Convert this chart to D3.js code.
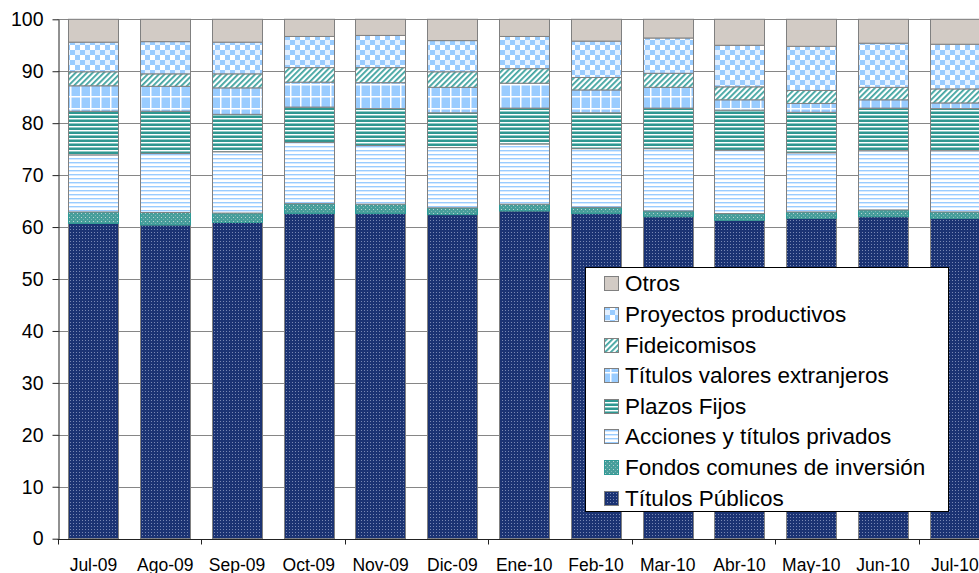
<!DOCTYPE html>
<html>
<head>
<meta charset="utf-8">
<script src="https://cdn.jsdelivr.net/npm/d3@7/dist/d3.min.js"></script>
<style>
  html, body { margin: 0; padding: 0; background: #fff; overflow: hidden; }
  svg { display: block; font-family: "Liberation Sans", Arial, sans-serif; }
</style>
</head>
<body>
<svg id="chart" width="979" height="573"></svg>
<script>
// Months on the x axis
const months = ["Jul-09","Ago-09","Sep-09","Oct-09","Nov-09","Dic-09","Ene-10","Feb-10","Mar-10","Abr-10","May-10","Jun-10","Jul-10"];

// Portfolio composition (%), one array per asset class, stacked bottom to top
const titulosPublicos   = [60.7, 60.4, 60.9, 62.6, 62.6, 62.4, 63.1, 62.6, 62.0, 61.3, 61.7, 62.0, 61.7];
const fondosComunes     = [ 2.2,  2.4,  1.8,  1.9,  1.8,  1.3,  1.3,  1.2,  1.1,  1.3,  1.2,  1.3,  1.2];
const accionesPrivados  = [11.0, 11.4, 11.8, 11.8, 11.3, 11.6, 11.6, 11.3, 12.0, 12.2, 11.4, 11.4, 11.8];
const plazosFijos       = [ 8.4,  8.1,  7.2,  6.8,  7.1,  6.7,  6.9,  6.9,  7.8,  7.7,  7.8,  8.2,  8.1];
const titulosExtranjeros= [ 4.9,  4.8,  5.1,  4.8,  5.0,  4.9,  4.8,  4.4,  4.0,  2.0,  1.7,  1.6,  1.1];
const fideicomisos      = [ 2.7,  2.4,  2.7,  2.8,  2.9,  3.0,  2.8,  2.4,  2.7,  2.5,  2.5,  2.4,  2.7];
const proyectos         = [ 5.7,  6.2,  6.1,  6.0,  6.2,  6.0,  6.2,  7.0,  6.8,  8.0,  8.5,  8.5,  8.6];
const otros             = [ 4.4,  4.3,  4.4,  3.3,  3.1,  4.1,  3.3,  4.2,  3.6,  5.0,  5.2,  4.6,  4.8];

// Series names (stack order) and y-axis ticks
const seriesNames = ["Títulos Públicos","Fondos comunes de inversión","Acciones y títulos privados","Plazos Fijos","Títulos valores extranjeros","Fideicomisos","Proyectos productivos","Otros"];
const seriesValues = [titulosPublicos, fondosComunes, accionesPrivados, plazosFijos, titulosExtranjeros, fideicomisos, proyectos, otros];
const yTicks = [0,10,20,30,40,50,60,70,80,90,100];

const svg = d3.select("#chart");
const defs = svg.append("defs");

// ---- fill patterns ----
function pat(id, w, h, build, transform) {
  const p = defs.append("pattern").attr("id", id)
    .attr("patternUnits", "userSpaceOnUse").attr("width", w).attr("height", h);
  if (transform) p.attr("patternTransform", transform);
  build(p);
}
pat("p0", 3, 3, p => {
  p.append("rect").attr("width", 3).attr("height", 3).attr("fill", "#1b3373");
  p.append("rect").attr("x", 1).attr("y", 1).attr("width", 1).attr("height", 1).attr("fill", "#7888b4");
});
pat("p1", 4, 4, p => {
  p.append("rect").attr("width", 4).attr("height", 4).attr("fill", "#479e9b");
  p.append("rect").attr("x", 1).attr("y", 1).attr("width", 1).attr("height", 1).attr("fill", "#b9d6d4");
  p.append("rect").attr("x", 3).attr("y", 3).attr("width", 1).attr("height", 1).attr("fill", "#7bb7b4");
});
pat("p2", 4, 4, p => {
  p.append("rect").attr("width", 4).attr("height", 4).attr("fill", "#ffffff");
  p.append("rect").attr("y", 2).attr("width", 4).attr("height", 1).attr("fill", "#99ccff");
  p.append("rect").attr("y", 3).attr("width", 4).attr("height", 1).attr("fill", "#d6eaff");
});
pat("p3", 4, 4, p => {
  p.append("rect").attr("width", 4).attr("height", 4).attr("fill", "#2f9791");
  p.append("rect").attr("y", 2).attr("width", 4).attr("height", 1).attr("fill", "#ffffff");
  p.append("rect").attr("y", 3).attr("width", 4).attr("height", 1).attr("fill", "#8ecac5");
});
pat("p4", 10, 12, p => {
  p.append("rect").attr("width", 10).attr("height", 12).attr("fill", "#99ccff");
  p.append("rect").attr("x", 0).attr("width", 1.5).attr("height", 12).attr("fill", "#ffffff");
  p.append("rect").attr("y", 0).attr("width", 10).attr("height", 1.5).attr("fill", "#ffffff");
});
pat("p5", 4, 4, p => {
  p.append("rect").attr("width", 4).attr("height", 4).attr("fill", "#ffffff");
  p.append("rect").attr("width", 1.8).attr("height", 4).attr("fill", "#3fa3a0");
}, "rotate(45)");
pat("p6", 10, 10, p => {
  p.append("rect").attr("width", 10).attr("height", 10).attr("fill", "#ffffff");
  p.append("rect").attr("width", 5).attr("height", 5).attr("fill", "#99ccff");
  p.append("rect").attr("x", 5).attr("y", 5).attr("width", 5).attr("height", 5).attr("fill", "#99ccff");
  p.append("rect").attr("x", 5).attr("y", 0).attr("width", 5).attr("height", 5).attr("fill", "#e3f0ff");
});
pat("p7", 4, 4, p => {
  p.append("rect").attr("width", 4).attr("height", 4).attr("fill", "#d2cbc5");
});
const fills = ["url(#p0)","url(#p1)","url(#p2)","url(#p3)","url(#p4)","url(#p5)","url(#p6)","url(#p7)"];
const strokes = ["#808080","#2f9a96","#808080","#808080","#808080","#808080","#808080","#808080"];

// ---- scales ----
const plotLeft = 57.6, step = 71.78;
const x = d3.scaleBand().domain(months)
  .range([plotLeft, plotLeft + step * months.length])
  .paddingInner(0.3).paddingOuter(0.15);
const y = d3.scaleLinear().domain([0, 100]).range([538.7, 19.3]);

// ---- gridlines ----
svg.append("g").selectAll("line").data(yTicks.filter(t => t > 0)).join("line")
  .attr("x1", plotLeft).attr("x2", 979)
  .attr("y1", d => Math.round(y(d)) + 0.5).attr("y2", d => Math.round(y(d)) + 0.5)
  .attr("stroke", "#868686").attr("stroke-width", 1);

// ---- stacked bars ----
const rows = months.map((m, i) => {
  const r = { month: m };
  seriesNames.forEach((s, k) => r[s] = seriesValues[k][i]);
  return r;
});
const stack = d3.stack().keys(seriesNames)(rows);
stack.forEach((layer, k) => {
  svg.append("g").selectAll("rect").data(layer).join("rect")
    .attr("x", d => Math.round(x(d.data.month)) + 0.5)
    .attr("width", Math.round(x.bandwidth()))
    .attr("y", d => y(d[1]))
    .attr("height", d => y(d[0]) - y(d[1]))
    .attr("fill", fills[k])
    .attr("stroke", strokes[k]).attr("stroke-width", 1);
});

// ---- y axis ----
const yAxis = d3.axisLeft(y).tickValues(yTicks).tickSizeInner(6).tickSizeOuter(0).tickPadding(9);
const gy = svg.append("g").attr("transform", `translate(${Math.round(plotLeft) + 0.5},0)`).call(yAxis);
gy.select(".domain").attr("stroke", "#222");
gy.selectAll(".tick line").attr("stroke", "#222");
gy.selectAll(".tick text").attr("font-size", "19.5px").attr("fill", "#000")
  .attr("font-family", "'Liberation Sans', Arial, sans-serif");

// ---- x axis ----
const baseY = Math.round(y(0)) + 0.5;
const gx = svg.append("g");
gx.append("line").attr("x1", plotLeft).attr("x2", 979).attr("y1", baseY).attr("y2", baseY)
  .attr("stroke", "#222");
const tickPos = d3.range(0, months.length + 1, 2).map(i => plotLeft + i * x.step());
gx.selectAll("line.tk").data(tickPos).join("line").attr("class", "tk")
  .attr("x1", d => Math.round(d) + 0.5).attr("x2", d => Math.round(d) + 0.5)
  .attr("y1", baseY).attr("y2", baseY + 5).attr("stroke", "#222");
gx.selectAll("text").data(months).join("text")
  .attr("x", d => x(d) + x.bandwidth() / 2)
  .attr("y", 570.5)
  .attr("text-anchor", "middle")
  .attr("font-size", "17.5px")
  .attr("fill", "#000")
  .text(d => d);

// ---- legend ----
const lg = svg.append("g");
lg.append("rect").attr("x", 585.5).attr("y", 267.5).attr("width", 363).attr("height", 244)
  .attr("fill", "#fff").attr("stroke", "#000").attr("stroke-width", 1);
const legendOrder = seriesNames.map((s, k) => k).reverse();
legendOrder.forEach((k, i) => {
  const cy = 283.3 + i * 30.6;
  lg.append("rect").attr("x", 604.5).attr("y", Math.round(cy - 7) + 0.5).attr("width", 14).attr("height", 14)
    .attr("fill", fills[k]).attr("stroke", k === 1 ? "#2f9a96" : "#808080");
  lg.append("text").attr("x", 625).attr("y", cy).attr("dy", "0.36em")
    .attr("font-size", "22.5px").attr("fill", "#000").text(seriesNames[k]);
});
</script>
</body>
</html>
